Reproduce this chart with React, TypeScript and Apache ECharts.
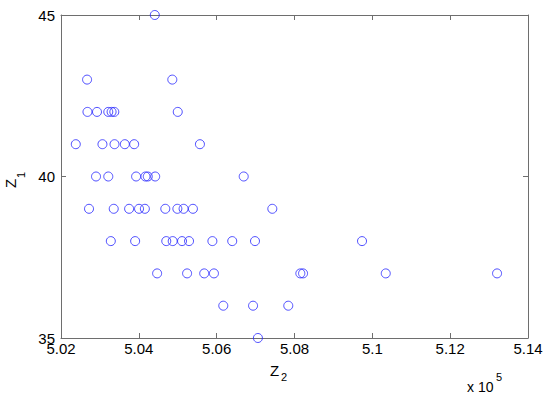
import React, { useEffect, useRef } from "react";
import * as echarts from "echarts";

// Z2 values (actual units) and matching Z1 values
const z2Values = [
  504410,
  502670, 504860,
  502680, 502925, 503215, 503300, 503370, 505000,
  502380, 503065, 503375, 503640, 503880, 505570,
  502900, 503215, 503930, 504170, 504230, 504420, 506695,
  502720, 503355, 503750, 504005, 504155, 504680, 504990, 505150, 505390, 507430,
  503280, 503905, 504705, 504870, 505110, 505290, 505890, 506400, 506985, 509735,
  504470, 505240, 505680, 505930, 508150, 508220, 510345, 513205,
  506170, 506935, 507840,
  507060,
];
const z1Values = [
  45,
  43, 43,
  42, 42, 42, 42, 42, 42,
  41, 41, 41, 41, 41, 41,
  40, 40, 40, 40, 40, 40, 40,
  39, 39, 39, 39, 39, 39, 39, 39, 39, 39,
  38, 38, 38, 38, 38, 38, 38, 38, 38, 38,
  37, 37, 37, 37, 37, 37, 37, 37,
  36, 36, 36,
  35,
];

const xMin = 502000;
const xMax = 514000;
const xStep = 2000;
const yMin = 35;
const yMax = 45;
const yStep = 5;

const FONT = "Arial, 'Liberation Sans', sans-serif";
const AXIS_COLOR = "#6e6e6e";

export default function App() {
  const ref = useRef<HTMLDivElement>(null);
  useEffect(() => {
    if (!ref.current) return;
    const chart = echarts.init(ref.current, undefined, { renderer: "svg" });
    const data = z2Values.map((x, i) => [x, z1Values[i]]);
    const axisLine = { show: true, lineStyle: { color: AXIS_COLOR, width: 1 } };
    const tick = { show: true, inside: true, length: 5, lineStyle: { color: AXIS_COLOR } };
    chart.setOption({
      animation: false,
      backgroundColor: "#ffffff",
      grid: { left: 61, right: 22, top: 15, bottom: 56, containLabel: false },
      xAxis: [
        {
          type: "value",
          min: xMin,
          max: xMax,
          interval: xStep,
          position: "bottom",
          axisLine,
          axisTick: tick,
          splitLine: { show: false },
          axisLabel: {
            color: "#000",
            fontFamily: FONT,
            fontSize: 15,
            margin: 3,
            formatter: (v: number) => String(+(v / 1e5).toFixed(2)),
          },
        },
        {
          type: "value",
          min: xMin,
          max: xMax,
          interval: xStep,
          position: "top",
          axisLine,
          axisTick: tick,
          splitLine: { show: false },
          axisLabel: { show: false },
        },
      ],
      yAxis: [
        {
          type: "value",
          min: yMin,
          max: yMax,
          interval: yStep,
          position: "left",
          axisLine,
          axisTick: tick,
          splitLine: { show: false },
          axisLabel: { color: "#000", fontFamily: FONT, fontSize: 15, margin: 6 },
        },
        {
          type: "value",
          min: yMin,
          max: yMax,
          interval: yStep,
          position: "right",
          axisLine,
          axisTick: tick,
          splitLine: { show: false },
          axisLabel: { show: false },
        },
      ],
      series: [
        {
          type: "scatter",
          data,
          symbol: "circle",
          symbolSize: 9,
          clip: false,
          itemStyle: { color: "transparent", borderColor: "#2424ff", borderWidth: 1 },
        },
      ],
      graphic: [
        { type: "text", x: 270, y: 378, style: { text: "Z", font: `15px ${FONT}`, fill: "#000", textAlign: "left", textVerticalAlign: "bottom" } },
        { type: "text", x: 281, y: 382, style: { text: "2", font: `11px ${FONT}`, fill: "#000", textAlign: "left", textVerticalAlign: "bottom" } },
        { type: "text", x: 467, y: 394, style: { text: "x 10", font: `14px ${FONT}`, fill: "#000", textAlign: "left", textVerticalAlign: "bottom" } },
        { type: "text", x: 496, y: 382, style: { text: "5", font: `11px ${FONT}`, fill: "#000", textAlign: "left", textVerticalAlign: "bottom" } },
        { type: "text", x: 18, y: 188, rotation: Math.PI / 2, style: { text: "Z", font: `15px ${FONT}`, fill: "#000", textAlign: "left", textVerticalAlign: "bottom" } },
        { type: "text", x: 26, y: 178, rotation: Math.PI / 2, style: { text: "1", font: `11px ${FONT}`, fill: "#000", textAlign: "left", textVerticalAlign: "bottom" } },
      ],
    });
    return () => chart.dispose();
  }, []);
  return <div ref={ref} style={{ position: "fixed", left: 0, top: 0, width: 550, height: 394 }} />;
}
